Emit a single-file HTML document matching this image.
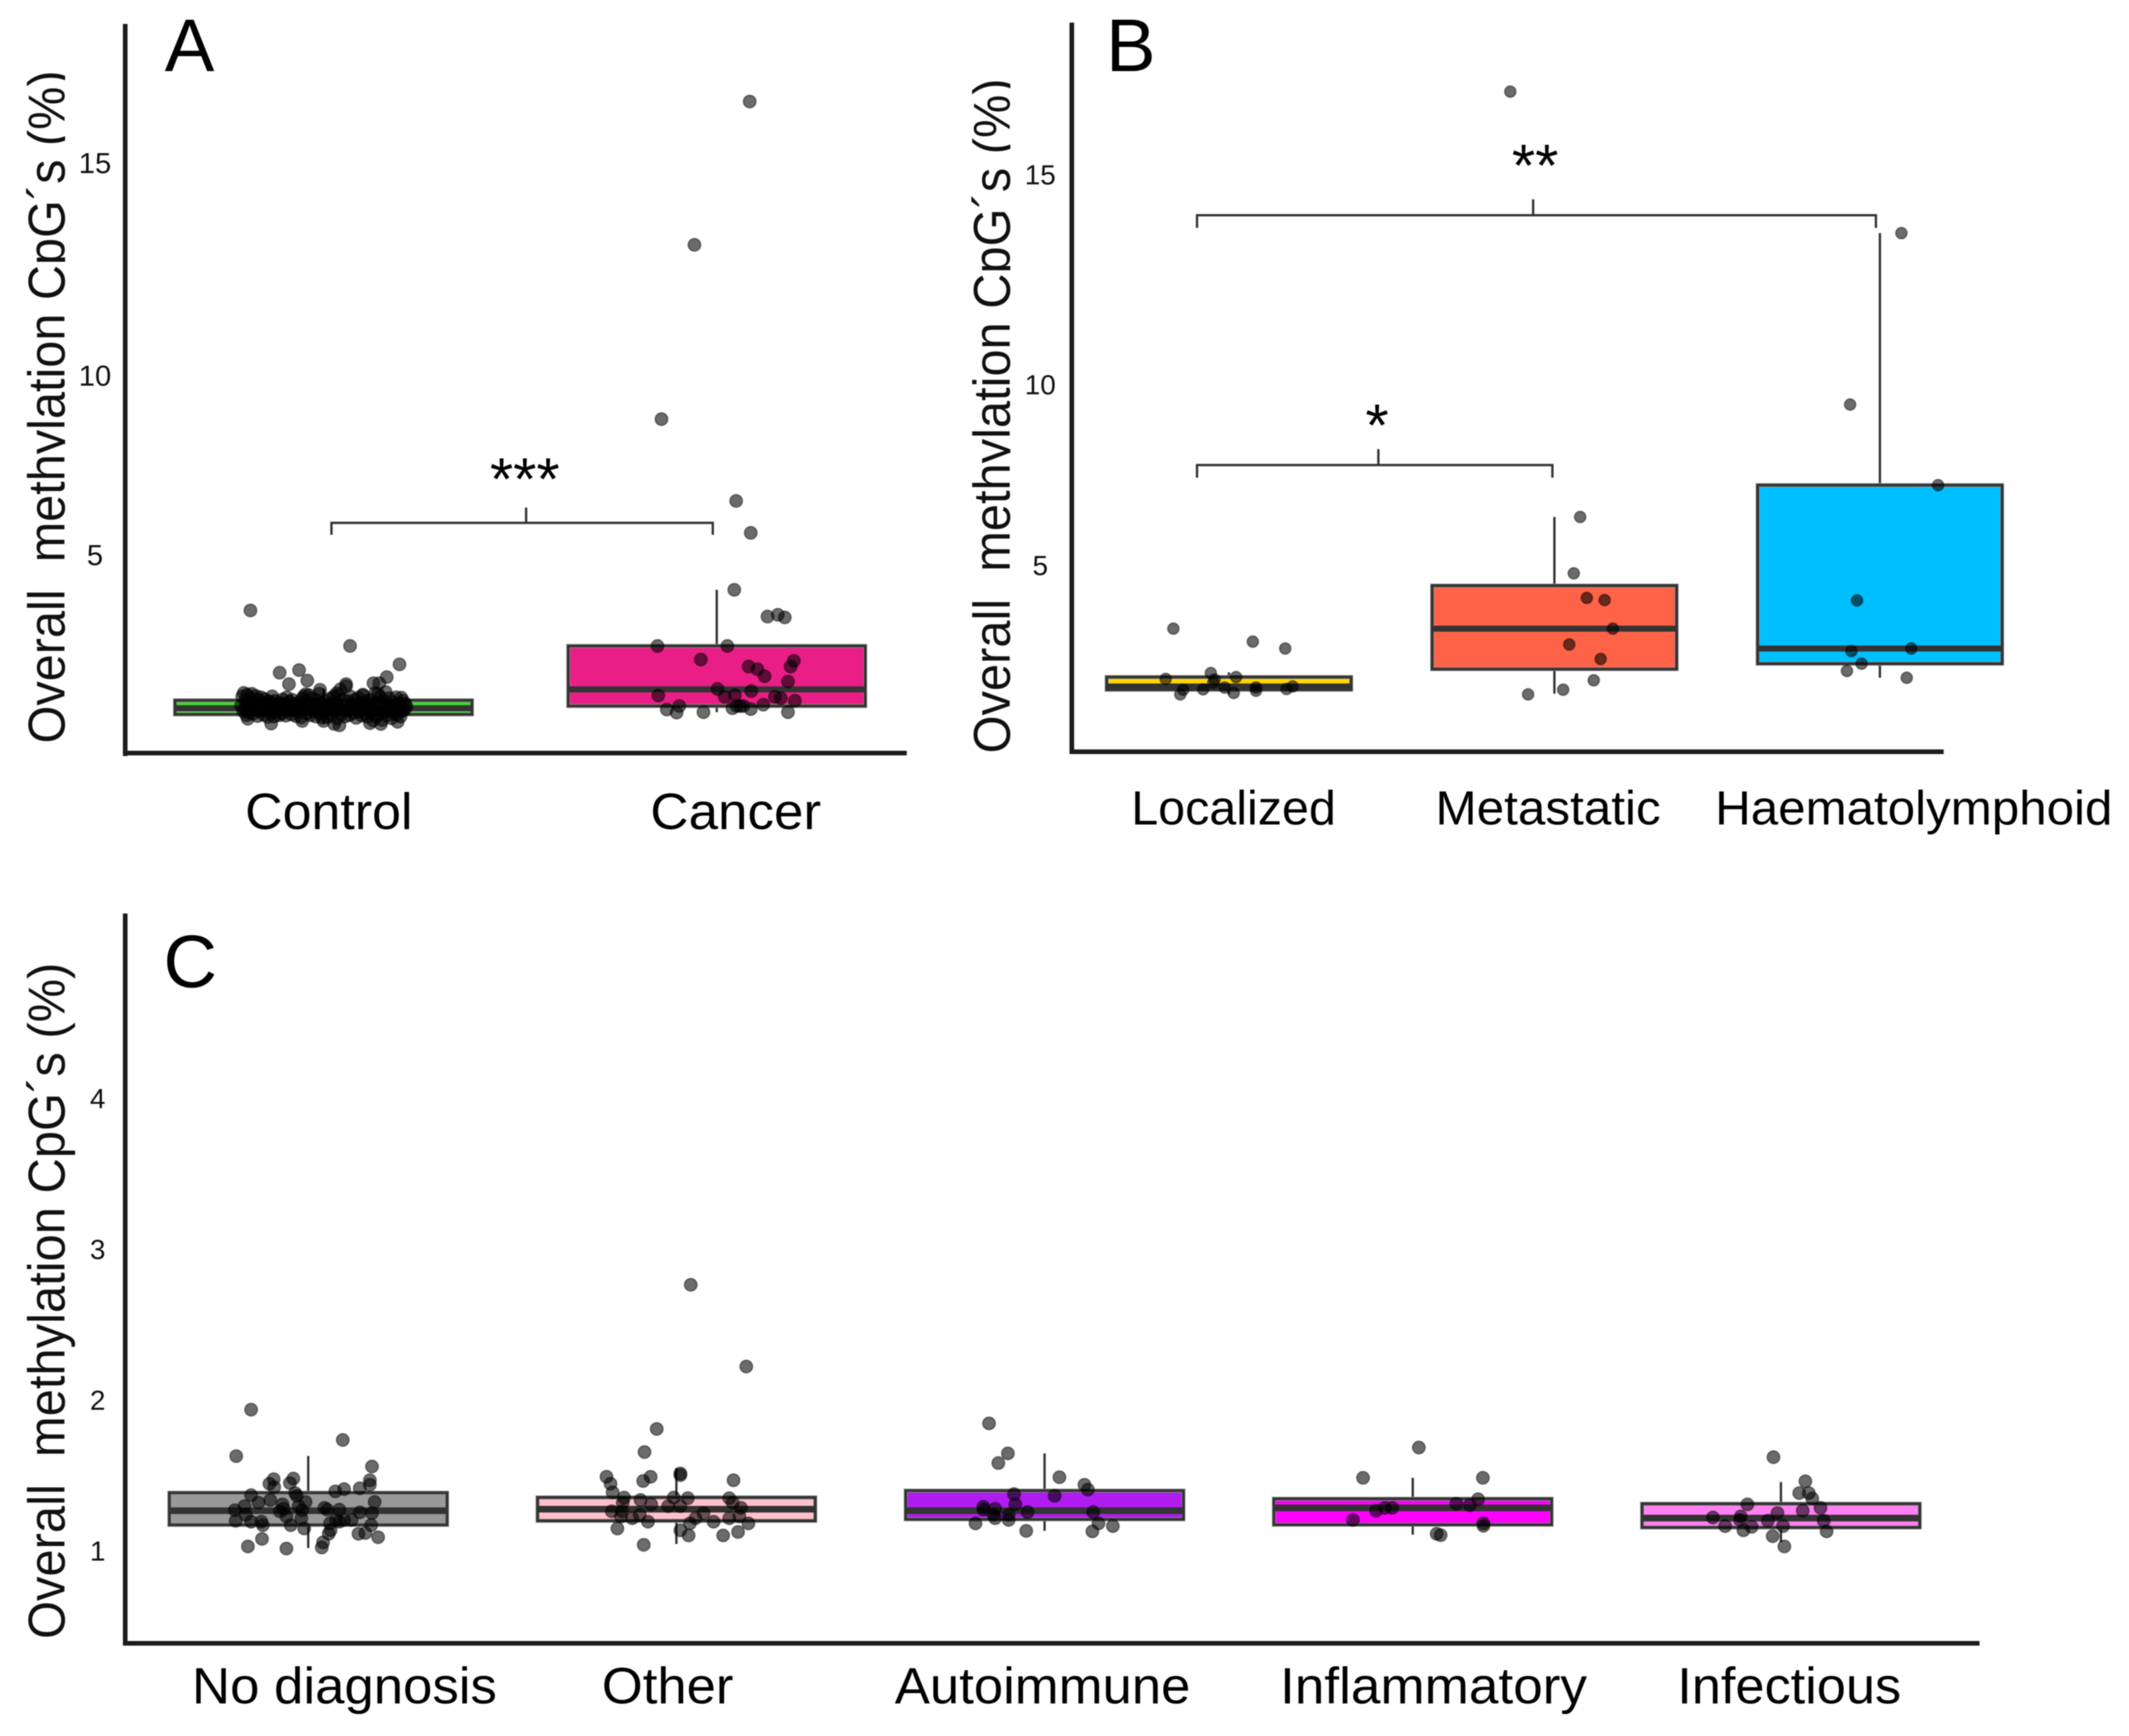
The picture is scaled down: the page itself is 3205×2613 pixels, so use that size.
<!DOCTYPE html>
<html lang="en">
<head>
<meta charset="utf-8">
<title>Overall methylation CpG's by group</title>
<style>
html,body{margin:0;padding:0;background:#fff;}
svg{display:block;font-family:"Liberation Sans",sans-serif;filter:blur(0.7px);}
</style>
</head>
<body>
<svg id="fig" xmlns="http://www.w3.org/2000/svg" width="3205" height="2613" viewBox="0 0 3205 2613">
  <defs>
    <clipPath id="clipA"><rect x="0" y="0" width="98" height="1300"/></clipPath>
    <clipPath id="clipB"><rect x="1400" y="0" width="121" height="1300"/></clipPath>
  </defs>
  <rect x="0" y="0" width="3205" height="2613" fill="#fff"/>

  <!-- Panel A static -->
  <g>
    <rect x="185" y="36" width="7" height="1102" fill="#1c1c1c"/>
    <rect x="185" y="1130" width="1180" height="7" fill="#1c1c1c"/>
    <text x="248" y="107" font-size="112" fill="#000">A</text>
    <g clip-path="url(#clipA)">
      <text transform="translate(97,1119) rotate(-90)" font-size="78" fill="#111" textLength="1013" lengthAdjust="spacingAndGlyphs">Overall&#160;&#160;methylation CpG´s (%)</text>
    </g>
    <text x="369" y="1248" font-size="77" fill="#000" textLength="252" lengthAdjust="spacingAndGlyphs">Control</text>
    <text x="979" y="1248" font-size="77" fill="#000" textLength="257" lengthAdjust="spacingAndGlyphs">Cancer</text>
    <path d="M499 805V787H1073V805M792 787V764" fill="none" stroke="#333" stroke-width="3.5"/>
    <text x="790" y="752" font-size="90" text-anchor="middle" fill="#000">***</text>
  </g>

  <!-- Panel B static -->
  <g>
    <rect x="1610" y="34" width="7" height="1101" fill="#1c1c1c"/>
    <rect x="1610" y="1128" width="1316" height="7" fill="#1c1c1c"/>
    <text x="1665" y="107" font-size="112" fill="#000">B</text>
    <g clip-path="url(#clipB)">
      <text transform="translate(1520,1134) rotate(-90)" font-size="78" fill="#111" textLength="1016" lengthAdjust="spacingAndGlyphs">Overall&#160;&#160;methylation CpG´s (%)</text>
    </g>
    <text x="1703" y="1241" font-size="72" fill="#000" textLength="308" lengthAdjust="spacingAndGlyphs">Localized</text>
    <text x="2161" y="1241" font-size="72" fill="#000" textLength="339" lengthAdjust="spacingAndGlyphs">Metastatic</text>
    <text x="2582" y="1241" font-size="72" fill="#000" textLength="598" lengthAdjust="spacingAndGlyphs">Haematolymphoid</text>
    <path d="M1802 719V700H2337V719M2075 700V676" fill="none" stroke="#333" stroke-width="3.5"/>
    <text x="2073" y="671" font-size="90" text-anchor="middle" fill="#000">*</text>
    <path d="M1802 343V324H2824V343M2308 324V300" fill="none" stroke="#333" stroke-width="3.5"/>
    <text x="2311" y="280" font-size="90" text-anchor="middle" fill="#000">**</text>
  </g>

  <!-- Panel C static -->
  <g>
    <rect x="185" y="1375" width="7" height="1102" fill="#1c1c1c"/>
    <rect x="185" y="2470" width="2795" height="7" fill="#1c1c1c"/>
    <text x="246" y="1486" font-size="112" fill="#000">C</text>
    <text transform="translate(97,2467) rotate(-90)" font-size="78" fill="#111" textLength="1018" lengthAdjust="spacingAndGlyphs">Overall&#160;&#160;methylation CpG´s (%)</text>
    <text x="289" y="2564" font-size="77" fill="#000" textLength="459" lengthAdjust="spacingAndGlyphs">No diagnosis</text>
    <text x="906" y="2564" font-size="77" fill="#000" textLength="198" lengthAdjust="spacingAndGlyphs">Other</text>
    <text x="1347" y="2564" font-size="77" fill="#000" textLength="445" lengthAdjust="spacingAndGlyphs">Autoimmune</text>
    <text x="1927" y="2564" font-size="77" fill="#000" textLength="462" lengthAdjust="spacingAndGlyphs">Inflammatory</text>
    <text x="2525" y="2564" font-size="77" fill="#000" textLength="337" lengthAdjust="spacingAndGlyphs">Infectious</text>
  </g>
</svg>

<script>
// ---------- Tick labels ----------
const ticksA = [5, 10, 15];
const ticksB = [5, 10, 15];
const ticksC = [1, 2, 3, 4];

// ---------- Panel A ----------
const categoriesA = ['Control', 'Cancer'];
const coloursA = ['#3FD92C', '#EA1E87'];
const q1A = [1.36, 1.55];
const medianA = [1.50, 1.93];
const q3A = [1.68, 2.92];
const whiskerLowA = [1.15, 1.41];
const whiskerHighA = [1.95, 4.20];

const controlValues = [
  1.56,1.77,1.43,1.85,1.49,1.67,1.34,1.81,1.58,1.40,
  1.73,1.52,1.83,1.37,1.63,1.46,1.78,1.55,1.32,1.69,
  1.43,1.75,1.51,1.61,1.35,1.71,1.47,1.59,1.30,1.66,
  1.39,1.54,1.63,1.45,1.31,1.67,1.41,1.58,1.50,1.34,
  1.62,1.38,1.70,1.48,1.56,1.33,1.75,1.44,1.65,1.53,
  1.36,1.69,1.46,1.60,1.32,1.55,1.42,1.64,1.51,1.29,
  1.71,1.77,1.47,1.82,1.38,1.61,1.80,1.34,1.53,1.73,
  1.43,1.59,1.31,1.68,1.49,1.83,1.37,1.62,1.28,1.54,
  1.40,1.66,1.46,1.30,1.58,1.72,1.35,1.51,1.77,1.43,
  1.63,1.26,1.80,1.48,1.93,1.37,1.71,1.55,1.31,2.00,
  1.45,1.66,1.34,1.77,1.52,1.60,1.39,1.69,1.28,1.56,
  1.74,1.42,1.62,1.33,1.81,1.50,1.38,1.65,1.30,1.54,
  1.69,1.40,1.59,1.22,1.47,1.85,1.31,1.63,1.36,1.77,
  1.50,1.23,1.68,1.42,1.87,1.33,1.58,1.73,1.45,1.27,
  1.64,1.39,1.54,1.75,1.35,1.49,1.61,1.31,1.43,1.67,
  1.46,1.60,1.53,1.55,1.51,1.58,1.52,1.49,1.57,1.50,
  2.92,3.73,2.50,2.31,2.37,2.13,2.21,2.07,2.07,2.05,
  2.05,1.83,1.77,1.79,1.84,1.92,1.74,1.15,1.11,1.14,
  1.16,1.14,1.19,1.26,1.21,1.21
];
const controlJitter = [
  -31,-30.6,-30.2,-30,-29.7,-29.4,-29,-28.7,-28.3,-28,
  -27.6,-27.3,-27,-26.6,-26.2,-25.9,-25.5,-25.1,-24.8,-24.4,
  -24,-23.6,-23.3,-22.9,-22.5,-22.1,-21.8,-21.4,-21,-20.6,
  -20.2,-19.9,-19.5,-19,-18.6,-18.2,-17.8,-17.4,-17,-16.6,
  -16.2,-15.8,-15.4,-15,-14.6,-14.2,-13.8,-13.4,-13,-12.5,
  -12.1,-11.7,-11.3,-10.9,-10.4,-10,-9.6,-9.2,-8.8,-8.4,
  -8,-7.5,-7.1,-6.7,-6.3,-5.9,-5.5,-5,-4.6,-4.2,
  -3.8,-3.3,-2.9,-2.5,-2.1,-1.6,-1.2,-0.8,-0.4,0,
  0.4,0.8,1.3,1.7,2.1,2.5,3,3.4,3.8,4.2,
  4.7,5.1,5.5,5.9,6.3,6.8,7.2,7.6,8,8.5,
  8.9,9.3,9.7,10.1,10.6,11,11.4,11.8,12.3,12.7,
  13.1,13.5,14,14.4,14.8,15.2,15.7,16.1,16.5,17,
  17.4,17.8,18.2,18.7,19.1,19.5,19.9,20.4,20.8,21.2,
  21.7,22.1,22.5,23,23.4,23.8,24.3,24.7,25.1,25.6,
  26,26.4,26.9,27.3,27.7,28.2,28.6,29,29.5,29.9,
  30.3,30.8,31.2,-26,-8,12,24,-15,4,16,
  10,-27.5,28.6,-16.5,-9.2,-6.1,23.8,18.8,21,-13,
  8.5,20.5,-19.3,15,4.9,-1.3,29.3,-19.7,6,4,
  17.5,21.6,27.9,-28.5,-8,0
];
const cancerValues = [
  4.20,3.59,3.63,3.57,2.92,2.92,2.61,2.58,2.45,2.45,
  2.39,2.23,2.11,1.94,1.89,1.79,1.76,1.80,1.76,1.73,
  1.67,1.58,1.55,1.47,1.40,1.41,1.50,1.55,1.55,1.55,
  1.48,1.41,5.61,6.50,8.78,13.07,16.44
];
const cancerJitter = [
  6.6,19.1,23,25.6,-22.3,4,-6,29,27.8,12,
  15.3,18,26.8,0.3,13,-22,3,6.8,21.9,24.1,
  29.4,17.5,-14.1,-18.8,-15.1,-5,5.9,7.5,8.8,10,
  12.8,26.8,12.8,7.3,-20.8,-8.4,12.4
];

// ---------- Panel B ----------
const categoriesB = ['Localized', 'Metastatic', 'Haematolymphoid'];
const coloursB = ['#FFD700', '#FF6347', '#00BFFF'];
const q1B = [1.56, 2.13, 2.28];
const medianB = [1.65, 3.25, 2.70];
const q3B = [1.91, 4.44, 7.22];
const whiskerLowB = [1.43, 1.45, 1.89];
const whiskerHighB = [2.04, 6.34, 13.61];

const localizedValues = [3.25,2.89,2.70,1.86,2.02,1.91,1.84,1.75,1.62,1.57,1.56,1.43,1.47,1.62,1.53,1.58,1.65];
const localizedJitter = [-20.9,9,21.2,-23.8,-6.8,2.7,-5.4,-5.9,-1.6,-9.7,-17.2,-18.3,1.8,10.2,10.2,21.7,24];
const metastaticValues = [16.98,6.34,4.78,4.10,4.04,3.25,2.81,2.41,1.82,1.56,1.43];
const metastaticJitter = [-16.6,9.7,7.3,12.2,18.9,22,5.6,17.4,14.8,3.3,-9.9];
const haemValues = [13.61,9.45,7.22,4.03,2.63,2.70,2.28,2.08,1.89];
const haemJitter = [8.1,-11.2,21.9,-8.6,-10.7,11.8,-6.9,-12.4,10.1];

// ---------- Panel C ----------
const categoriesC = ['No diagnosis', 'Other', 'Autoimmune', 'Inflammatory', 'Infectious'];
const coloursC = ['#999999', '#FFC0CB', '#B01CF0', '#FF00FF', '#FF80F2'];
const q1C = [1.173, 1.200, 1.210, 1.174, 1.156];
const medianC = [1.267, 1.277, 1.267, 1.286, 1.218];
const q3C = [1.386, 1.355, 1.400, 1.346, 1.313];
const whiskerLowC = [1.02, 1.046, 1.134, 1.108, 1.057];
const whiskerHighC = [1.63, 1.55, 1.647, 1.485, 1.457];

const noDiagnosisValues = [
  1.937,1.736,1.629,1.56,1.469,1.439,1.476,1.48,1.45,1.446,
  1.423,1.416,1.41,1.395,1.37,1.384,1.366,1.338,1.32,1.297,
  1.309,1.325,1.325,1.27,1.297,1.27,1.286,1.274,1.274,1.263,
  1.279,1.256,1.251,1.24,1.2,1.194,1.194,1.171,1.229,1.171,
  1.217,1.149,1.206,1.206,1.206,1.183,1.194,1.171,1.137,1.114,
  1.114,1.119,1.091,1.08,1.03,1.016,1.023,1.057
];
const noDiagnosisJitter = [
  -21.5,13,-27.1,24,23.2,23.2,-13,-5.6,-6.9,-14.6,
  -12.8,19.4,13.5,10.2,-21.5,-4.9,-4.3,-14.3,-18.7,-24,
  -9.7,-1,25,-27.6,-3.6,-2.3,6.1,7.2,11.7,-10.7,
  -9.2,19.4,24,-23.5,-27.3,-21.5,-17.6,-17.1,-8.2,-6.6,
  -2.6,-1.5,10.5,13.5,16.3,8.2,11.7,23.7,8.4,7.7,
  18.9,21.5,26.3,-17.4,-22.7,-8.2,5.1,5.6
];
const otherValues = [
  2.765,2.223,1.809,1.656,1.514,1.492,1.492,1.464,1.469,1.446,
  1.389,1.354,1.354,1.35,1.35,1.338,1.32,1.32,1.309,1.297,
  1.297,1.286,1.263,1.263,1.229,1.217,1.24,1.194,1.251,1.217,
  1.183,1.194,1.229,1.217,1.183,1.149,1.137,1.103,1.103,1.126,
  1.041,1.503
];
const otherJitter = [
  5.4,26.3,-7.4,-12,1.5,-26.3,-9.7,-12.5,21.5,-24.8,
  -24,-19.7,-1,4.3,19.9,-13.5,21.2,-20.2,-9.5,-3.1,
  1.5,24.3,-24.3,-20.4,-20.9,-16.6,-13.8,-10.7,10.2,7.2,
  5.1,14,23.7,19.9,27.1,-22.2,1.5,4.6,17.6,23.2,
  -12.3,1.5
];
const autoimmuneValues = [
  1.846,1.647,1.583,1.489,1.377,1.366,1.309,1.293,1.274,1.279,
  1.24,1.217,1.24,1.206,1.258,1.183,1.133,1.439,1.407,1.258,
  1.183,1.13,1.165
];
const autoimmuneJitter = [
  -20.9,-13.8,-17.4,5.6,-11.5,3.8,-11,-23,-23,-18.6,
  -19.2,-18.6,-13.5,-13.5,-6.4,-26,-6.9,15,16.3,18.3,
  20.3,18,25.7
];
const inflammatoryValues = [1.686,1.485,1.485,1.343,1.313,1.304,1.286,1.286,1.267,1.206,1.183,1.167,1.114,1.105];
const inflammatoryJitter = [2.3,-18.7,26.4,24.6,16.4,21.5,-7.7,-10.5,-13.8,-22.5,26.6,26.6,9,10.5];
const infectiousValues = [
  1.622,1.462,1.384,1.384,1.348,1.309,1.286,1.267,1.251,1.229,
  1.222,1.206,1.201,1.201,1.165,1.16,1.165,1.137,1.13,1.098,1.03
];
const infectiousJitter = [
  -2.8,9.2,6.9,10.5,11.8,-12.6,14.9,8.2,-1.3,-15.1,
  -25.6,-15.4,-4.9,16.1,-21,-11,0.8,-14.1,17.2,-3.1,1.3
];

// ---------- Axis functions ----------
function piecewise(domain, range) {
  return function (v) {
    let i = 0;
    while (i < domain.length - 2 && v > domain[i + 1]) i++;
    const t = (v - domain[i]) / (domain[i + 1] - domain[i]);
    return range[i] + t * (range[i + 1] - range[i]);
  };
}
const yA = piecewise([0, 5, 10, 15], [1165, 835, 565, 245]);
const yB = piecewise([0, 5, 10, 15], [1123, 851, 579, 263]);
const yC = piecewise([1, 4], [2334.5, 1653.5]);
const xA = function (c, j) { return 487 + 592 * c + 4 * (j || 0); };
const xB = function (c, j) { return 1850 + 490 * c + 4 * (j || 0); };
const xC = function (c, j) { return 464 + 554.25 * c + 4 * (j || 0); };

const svg = document.getElementById('fig');
const NS = 'http://www.w3.org/2000/svg';
function make(tag, parent, attrs) {
  const el = document.createElementNS(NS, tag);
  for (const k in attrs) el.setAttribute(k, attrs[k]);
  parent.appendChild(el);
  return el;
}
function slug(s) { return s.toLowerCase().replace(/\s+/g, '-'); }

function drawTicks(ticks, y, xPos, size, panel) {
  ticks.forEach(function (t) {
    const el = make('text', svg, { x: xPos, y: y(t) + size * 0.35, 'font-size': size, 'text-anchor': 'middle', fill: '#111' });
    el.textContent = String(t);
    
    
  });
}

function drawBoxes(cats, colours, q1, med, q3, lo, hi, x, y, halfWidth, medW, panel) {
  cats.forEach(function (cat, i) {
    const cx = x(i);
    const g = make('g', svg, {});
    
    
    const whisker = make('line', g, { x1: cx, x2: cx, y1: y(lo[i]), y2: y(hi[i]), stroke: '#333', 'stroke-width': 3.5 });
    
    
    const halo = make('rect', g, { x: cx - halfWidth, y: y(q3[i]), width: 2 * halfWidth, height: y(q1[i]) - y(q3[i]), fill: colours[i], stroke: '#8c8c8c', 'stroke-width': 6 });
    
    
    const box = make('rect', g, { x: cx - halfWidth, y: y(q3[i]), width: 2 * halfWidth, height: y(q1[i]) - y(q3[i]), fill: 'none', stroke: '#333', 'stroke-width': 4 });
    
    
    const median = make('line', g, { x1: cx - halfWidth, x2: cx + halfWidth, y1: y(med[i]), y2: y(med[i]), stroke: '#333', 'stroke-width': medW });
    
    
  });
}

function drawPoints(values, jitter, cat, x, y, r, name) {
  const g = make('g', svg, {});
  
  
  values.forEach(function (v, i) {
    const c = make('circle', g, { cx: x(cat, jitter[i]), cy: y(v), r: r, fill: '#000', 'fill-opacity': 0.58, stroke: '#000', 'stroke-opacity': 0.45, 'stroke-width': 2 });
    
    
  });
}

// Panel A
drawTicks(ticksA, yA, 143, 44, 'a');
drawBoxes(categoriesA, coloursA, q1A, medianA, q3A, whiskerLowA, whiskerHighA, xA, yA, 223.5, 9, 'a');
drawPoints(controlValues, controlJitter, 0, xA, yA, 9.5, 'panel-a-points-control');
drawPoints(cancerValues, cancerJitter, 1, xA, yA, 9.5, 'panel-a-points-cancer');

// Panel B
drawTicks(ticksB, yB, 1566, 42, 'b');
drawBoxes(categoriesB, coloursB, q1B, medianB, q3B, whiskerLowB, whiskerHighB, xB, yB, 184, 9, 'b');
drawPoints(localizedValues, localizedJitter, 0, xB, yB, 8.5, 'panel-b-points-localized');
drawPoints(metastaticValues, metastaticJitter, 1, xB, yB, 8.5, 'panel-b-points-metastatic');
drawPoints(haemValues, haemJitter, 2, xB, yB, 8.5, 'panel-b-points-haematolymphoid');

// Panel C
drawTicks(ticksC, yC, 147, 42, 'c');
drawBoxes(categoriesC, coloursC, q1C, medianC, q3C, whiskerLowC, whiskerHighC, xC, yC, 209, 10, 'c');
drawPoints(noDiagnosisValues, noDiagnosisJitter, 0, xC, yC, 9.5, 'panel-c-points-no-diagnosis');
drawPoints(otherValues, otherJitter, 1, xC, yC, 9.5, 'panel-c-points-other');
drawPoints(autoimmuneValues, autoimmuneJitter, 2, xC, yC, 9.5, 'panel-c-points-autoimmune');
drawPoints(inflammatoryValues, inflammatoryJitter, 3, xC, yC, 9.5, 'panel-c-points-inflammatory');
drawPoints(infectiousValues, infectiousJitter, 4, xC, yC, 9.5, 'panel-c-points-infectious');
</script>
</body>
</html>
